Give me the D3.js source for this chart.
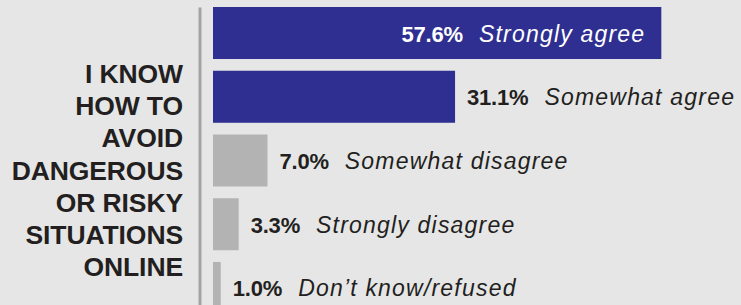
<!DOCTYPE html>
<html lang="en">
  <head>
    <meta charset="utf-8">
    <title>I know how to avoid dangerous or risky situations online</title>
    <script src="https://cdn.jsdelivr.net/npm/d3@7"></script>
    <style type="text/css">
    html, body {
        margin: 0;
        padding: 0;
        background: #e6e6e6;
    }
    svg {
        display: block;
        font-family: "Liberation Sans", Arial, sans-serif;
    }
</style>
  </head>
  <body>

<script>
// data
var answers = ["Strongly agree", "Somewhat agree", "Somewhat disagree", "Strongly disagree", "Don\u2019t know/refused"];
var shares = [57.6, 31.1, 7.0, 3.3, 1.0];
var groups = ["agree", "agree", "other", "other", "other"];
var titleLines = ["I KNOW", "HOW TO", "AVOID", "DANGEROUS", "OR RISKY", "SITUATIONS", "ONLINE"];

var width = 741,
    height = 305;

var svg = d3.select("body").append("svg")
    .attr("width", width)
    .attr("height", height);

var rows = answers.map(function (a, i) {
  return {answer: a, value: shares[i], group: groups[i]};
});

// scales
var x = d3.scaleLinear().domain([0, 60]).range([213, 680]);
var y = d3.scaleBand().domain(answers).range([7, 314]).paddingInner(0.184);
var color = d3.scaleOrdinal().domain(["agree", "other"]).range(["#2f2f91", "#b3b3b3"]);

// vertical rule on the left of the bars
svg.append("g")
    .attr("transform", "translate(199.5,0)")
    .call(d3.axisLeft(y).tickSize(0).tickFormat(""))
    .call(function (g) {
      g.select(".domain").attr("stroke", "#a3a3a3").attr("stroke-width", 3);
    });

// bars
svg.selectAll("rect.bar")
   .data(rows)
   .enter()
   .append("rect")
   .attr("class", "bar")
   .attr("x", x(0))
   .attr("y", function (d) { return y(d.answer); })
   .attr("width", function (d) { return x(d.value) - x(0); })
   .attr("height", y.bandwidth())
   .attr("fill", function (d) { return color(d.group); });

// value + answer labels
var labels = svg.selectAll("text.lab")
   .data(rows)
   .enter()
   .append("text")
   .attr("class", "lab")
   .attr("y", function (d) { return y(d.answer) + y.bandwidth() / 2 + 8.5; })
   .attr("x", function (d, i) { return i === 0 ? x(d.value) - 16 : x(d.value) + 12; })
   .attr("text-anchor", function (d, i) { return i === 0 ? "end" : "start"; })
   .attr("fill", function (d, i) { return i === 0 ? "#ffffff" : "#231f20"; });

labels.append("tspan")
   .attr("font-weight", "bold")
   .attr("font-size", "22px")
   .attr("letter-spacing", "-0.2px")
   .text(function (d) { return d.value.toFixed(1) + "%"; });

labels.append("tspan")
   .attr("dx", 16)
   .attr("font-style", "italic")
   .attr("font-size", "23px")
   .attr("letter-spacing", "1.2px")
   .text(function (d) { return d.answer; });

// statement on the left
svg.append("text")
   .attr("text-anchor", "end")
   .attr("font-weight", "bold")
   .attr("font-size", "26.5px")
   .attr("letter-spacing", "-0.1px")
   .attr("fill", "#231f20")
   .selectAll("tspan")
   .data(titleLines)
   .enter()
   .append("tspan")
   .attr("x", 183)
   .attr("y", function (d, i) { return 83 + i * 32.2; })
   .text(function (d) { return d; });
</script>

  </body>
</html>
